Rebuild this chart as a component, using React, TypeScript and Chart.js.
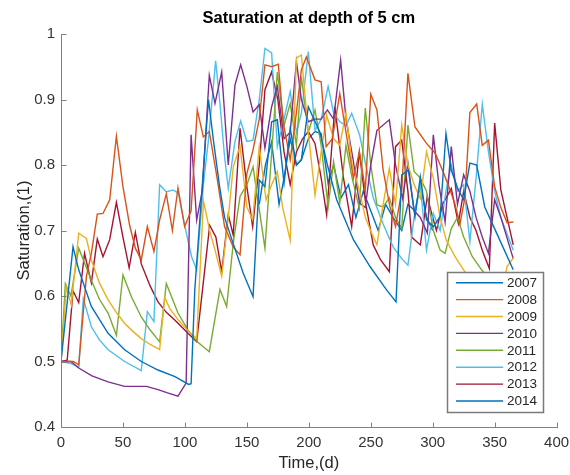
import React, { useEffect, useRef } from "react";
import { Chart, registerables } from "chart.js";

Chart.register(...registerables);

const FONT = "'Liberation Sans', Arial, Helvetica, sans-serif";

const titleText = "Saturation at depth of 5 cm";
const xLabel = "Time,(d)";
const yLabel = "Saturation,(1)";

const seriesNames = ["2007", "2008", "2009", "2010", "2011", "2012", "2013", "2014"];
const seriesColors = ["#0072BD", "#D95319", "#EDB120", "#7E2F8E", "#77AC30", "#4DBEEE", "#A2142F", "#0072BD"];

const days2007 = [0, 9.7, 14.3, 24.5, 38, 51.4, 64.8, 78.3, 92, 103, 105, 108, 119, 123, 128, 132, 139, 147, 155, 160, 164.6, 170, 174.6, 180, 185, 190, 194, 199.6, 209, 215, 222.5, 236, 249.4, 262.9, 270.4, 275, 280.4, 285.7, 290, 295, 300.5, 306, 310.7, 315, 320.7, 325, 330, 335.5, 342, 351.6, 365];
const sat2007 = [0.5, 0.675, 0.64, 0.584, 0.543, 0.518, 0.5, 0.487, 0.477, 0.465, 0.466, 0.61, 0.9, 0.838, 0.767, 0.72, 0.68, 0.635, 0.599, 0.777, 0.767, 0.866, 0.869, 0.772, 0.856, 0.8, 0.808, 0.889, 0.85, 0.8, 0.747, 0.686, 0.645, 0.609, 0.591, 0.785, 0.792, 0.721, 0.782, 0.716, 0.706, 0.721, 0.848, 0.792, 0.762, 0.747, 0.803, 0.8, 0.736, 0.696, 0.64];

const days2008 = [0, 10, 14.3, 20.5, 24.5, 29.3, 33.9, 39.3, 44.7, 50, 55.4, 60, 64.8, 69.7, 75, 79.6, 85, 89.9, 94.4, 99.8, 105, 110, 114.9, 119.7, 126, 132, 139, 144.5, 150, 155, 160, 164.6, 170, 175.4, 179.4, 185, 190, 194, 198, 205, 210, 214, 219, 225, 230, 236, 240.8, 245.6, 250, 255, 260, 265.5, 270, 275, 280, 285.7, 295, 302, 309, 314, 318, 322, 326, 330, 335.5, 340, 345, 350, 355, 360, 365];
const sat2008 = [0.5, 0.5, 0.495, 0.63, 0.665, 0.725, 0.726, 0.747, 0.844, 0.767, 0.708, 0.673, 0.655, 0.706, 0.668, 0.716, 0.756, 0.7, 0.765, 0.706, 0.73, 0.884, 0.843, 0.851, 0.78, 0.706, 0.675, 0.663, 0.787, 0.823, 0.87, 0.953, 0.95, 0.954, 0.864, 0.808, 0.88, 0.945, 0.965, 0.93, 0.927, 0.828, 0.84, 0.909, 0.85, 0.78, 0.82, 0.762, 0.908, 0.884, 0.792, 0.736, 0.706, 0.76, 0.94, 0.858, 0.833, 0.818, 0.787, 0.762, 0.74, 0.71, 0.75, 0.88, 0.893, 0.83, 0.838, 0.767, 0.735, 0.712, 0.713];

const days2009 = [0, 4.3, 8.3, 14.3, 20.5, 24.5, 31, 38, 45, 51.4, 58, 64.8, 72, 79.6, 83.7, 88, 94, 101, 109.5, 115, 120, 125, 129.7, 135, 139, 144.5, 150, 154.7, 160, 165.5, 170, 174.6, 179, 185, 190, 194, 199.6, 205, 210, 214.4, 220, 225, 230, 235, 241, 245.6, 250.7, 255, 260, 265, 270, 275, 280, 285, 290, 295, 300.5, 306, 311, 318, 326, 335, 345, 355, 360, 365];
const sat2009 = [0.5, 0.614, 0.586, 0.696, 0.688, 0.655, 0.62, 0.594, 0.574, 0.558, 0.546, 0.535, 0.526, 0.518, 0.598, 0.58, 0.565, 0.55, 0.535, 0.745, 0.7, 0.665, 0.63, 0.72, 0.797, 0.829, 0.736, 0.716, 0.828, 0.747, 0.77, 0.79, 0.734, 0.685, 0.963, 0.968, 0.85, 0.754, 0.82, 0.876, 0.84, 0.83, 0.88, 0.8, 0.76, 0.72, 0.696, 0.678, 0.74, 0.795, 0.74, 0.861, 0.8, 0.77, 0.749, 0.82, 0.78, 0.72, 0.685, 0.66, 0.637, 0.61, 0.595, 0.6, 0.645, 0.658];

const days2010 = [0, 8, 14.3, 25, 38, 51.4, 69, 78.3, 86, 94.4, 101, 105, 109.5, 114, 119.7, 124.3, 129.7, 135, 140.4, 145, 150, 155, 160, 164.6, 170, 174.6, 180, 185, 190, 194, 199.6, 205, 210, 215, 220, 225.7, 230, 235.8, 240.8, 245.6, 250, 255, 265, 270, 275.7, 280, 285, 290, 295.7, 300.5, 305, 310, 315, 320, 325, 330, 335, 340, 345, 350, 355, 365];
const sat2010 = [0.5, 0.5, 0.49, 0.478, 0.469, 0.462, 0.462, 0.457, 0.452, 0.447, 0.467, 0.846, 0.716, 0.76, 0.937, 0.894, 0.942, 0.8, 0.922, 0.953, 0.92, 0.881, 0.892, 0.826, 0.889, 0.92, 0.84, 0.85, 0.958, 0.9, 0.866, 0.87, 0.87, 0.884, 0.87, 0.96, 0.87, 0.808, 0.742, 0.735, 0.8, 0.853, 0.869, 0.8, 0.749, 0.803, 0.73, 0.72, 0.696, 0.846, 0.77, 0.713, 0.828, 0.74, 0.785, 0.76, 0.72, 0.69, 0.665, 0.747, 0.72, 0.657];

const days2011 = [0, 3.5, 8, 14.3, 24.5, 31, 38, 44.7, 50, 57, 64.8, 72, 79.6, 85, 94.4, 102.5, 110, 119.7, 128.3, 133.7, 139, 144.5, 150, 155, 164.6, 174.6, 180, 185, 190, 194, 199.6, 205, 210, 215.6, 220, 225, 230, 235, 240.8, 245.6, 250, 255, 260, 265, 270, 275, 280, 285, 290, 295, 300.5, 306, 310, 315, 320, 325, 332, 339.5, 350, 360, 365];
const sat2011 = [0.5, 0.619, 0.6, 0.673, 0.624, 0.595, 0.574, 0.54, 0.632, 0.598, 0.568, 0.548, 0.53, 0.619, 0.574, 0.548, 0.53, 0.515, 0.61, 0.584, 0.68, 0.752, 0.77, 0.797, 0.673, 0.942, 0.86, 0.894, 0.83, 0.935, 0.85, 0.884, 0.83, 0.736, 0.805, 0.742, 0.83, 0.78, 0.734, 0.887, 0.8, 0.739, 0.736, 0.75, 0.72, 0.703, 0.861, 0.79, 0.78, 0.76, 0.7, 0.67, 0.665, 0.703, 0.72, 0.69, 0.66, 0.64, 0.615, 0.6, 0.6];

const days2012 = [0, 8, 14.3, 18, 24.5, 31, 38, 51.4, 64.8, 69.7, 75, 79.6, 85, 90.4, 94.7, 100, 105.4, 109.5, 115, 119, 124.8, 128, 132, 135, 140.4, 145, 150, 155, 160, 164.6, 170, 174.6, 180, 185, 190, 194, 199.6, 205, 210, 215.6, 220, 225, 230, 234.6, 241, 246, 252, 260, 268, 275, 280, 285, 290, 295, 300.5, 306, 311, 315, 320, 325, 330, 335, 340, 345, 350, 355, 365];
const sat2012 = [0.5, 0.497, 0.491, 0.596, 0.553, 0.533, 0.518, 0.5, 0.486, 0.576, 0.561, 0.77, 0.759, 0.762, 0.757, 0.706, 0.66, 0.64, 0.772, 0.838, 0.959, 0.9, 0.813, 0.764, 0.836, 0.867, 0.836, 0.838, 0.9, 0.978, 0.971, 0.828, 0.87, 0.912, 0.85, 0.879, 0.973, 0.853, 0.87, 0.92, 0.88, 0.866, 0.86, 0.879, 0.846, 0.8, 0.75, 0.71, 0.675, 0.657, 0.647, 0.72, 0.769, 0.67, 0.726, 0.7, 0.764, 0.8, 0.76, 0.77, 0.683, 0.78, 0.893, 0.82, 0.76, 0.72, 0.67];

const days2013 = [0, 5, 9.7, 14.3, 19, 24.5, 29.3, 33.9, 39.3, 44.7, 50, 55, 60, 64.8, 72, 78.3, 85, 92, 102.5, 109.5, 116, 120, 125, 129.7, 135, 139, 144.5, 150, 154.7, 160, 164.6, 170, 175, 180, 185, 190, 195, 199.6, 205, 210, 214.4, 221, 228, 234.6, 240.8, 246, 252, 258, 265, 270, 275, 280, 283, 290, 295.6, 300, 303, 308, 315, 320.7, 325, 330, 335, 340, 345.7, 350, 355, 360, 365];
const sat2013 = [0.5, 0.502, 0.608, 0.59, 0.665, 0.62, 0.687, 0.66, 0.686, 0.743, 0.69, 0.643, 0.697, 0.649, 0.615, 0.591, 0.575, 0.563, 0.543, 0.53, 0.64, 0.708, 0.69, 0.637, 0.724, 0.693, 0.856, 0.767, 0.706, 0.8, 0.915, 0.942, 0.9, 0.82, 0.77, 0.82, 0.84, 0.851, 0.833, 0.78, 0.724, 0.889, 0.78, 0.706, 0.82, 0.74, 0.678, 0.655, 0.637, 0.828, 0.838, 0.76, 0.69, 0.678, 0.752, 0.72, 0.7, 0.74, 0.764, 0.711, 0.76, 0.72, 0.7, 0.67, 0.642, 0.864, 0.762, 0.72, 0.678];

const days2014 = [160, 165, 170, 176, 180, 185, 190, 194, 199.6, 205, 210, 215.6, 220, 226, 232, 238, 244, 250, 256, 262, 268, 275, 280, 285.7, 290, 295, 300];
const sat2014 = [0.74, 0.8, 0.835, 0.74, 0.78, 0.84, 0.8, 0.808, 0.84, 0.851, 0.848, 0.772, 0.8, 0.75, 0.77, 0.72, 0.76, 0.73, 0.7, 0.74, 0.72, 0.7, 0.74, 0.73, 0.77, 0.72, 0.7];

const seriesDays = [days2007, days2008, days2009, days2010, days2011, days2012, days2013, days2014];
const seriesSat = [sat2007, sat2008, sat2009, sat2010, sat2011, sat2012, sat2013, sat2014];

const xMin = 0, xMax = 400, xStep = 50;
const yMin = 0.4, yMax = 1, yStep = 0.1;

const matlabPlugin = {
  id: "matlabLook",
  afterDatasetsDraw(chart: any) {
    const ctx = chart.ctx;
    const area = chart.chartArea;
    const xs = chart.scales.x;
    const ys = chart.scales.y;
    ctx.save();
    ctx.strokeStyle = "#808080";
    ctx.lineWidth = 1;
    ctx.beginPath();
    const L = Math.round(area.left) + 0.5;
    const B = Math.round(area.bottom) + 0.5;
    ctx.moveTo(L, Math.round(area.top));
    ctx.lineTo(L, B);
    ctx.lineTo(Math.round(area.right) + 1, B);
    ctx.stroke();
    ctx.beginPath();
    xs.ticks.forEach((t: any) => {
      const px = Math.round(xs.getPixelForValue(t.value)) + 0.5;
      ctx.moveTo(px, B);
      ctx.lineTo(px, B - 5);
    });
    ys.ticks.forEach((t: any) => {
      const py = Math.round(ys.getPixelForValue(t.value)) + 0.5;
      ctx.moveTo(L, py);
      ctx.lineTo(L + 5, py);
    });
    ctx.stroke();

    // legend
    const lx = 447, ly = 272, lw = 96, lh = 140;
    ctx.fillStyle = "#ffffff";
    ctx.fillRect(lx, ly, lw, lh);
    ctx.strokeStyle = "#7a7a7a";
    ctx.lineWidth = 1.5;
    ctx.strokeRect(lx + 0.5, ly + 0.5, lw, lh);
    ctx.font = `13.5px ${FONT}`;
    ctx.textBaseline = "middle";
    ctx.textAlign = "left";
    seriesNames.forEach((name, i) => {
      const cy = 282.7 + i * 16.9;
      ctx.strokeStyle = seriesColors[i];
      ctx.lineWidth = 1.4;
      ctx.beginPath();
      ctx.moveTo(456, cy);
      ctx.lineTo(503, cy);
      ctx.stroke();
      ctx.fillStyle = "#262626";
      ctx.fillText(name, 507, cy + 0.5);
    });
    ctx.restore();
  },
  afterDraw(chart: any) {
    const ctx = chart.ctx;
    const area = chart.chartArea;
    const cx = (area.left + area.right) / 2;
    const cy = (area.top + area.bottom) / 2;
    ctx.save();
    ctx.fillStyle = "#000000";
    ctx.textAlign = "center";
    ctx.textBaseline = "middle";
    ctx.font = `bold 16.5px ${FONT}`;
    ctx.fillText(titleText, cx, 18);
    ctx.fillStyle = "#262626";
    ctx.font = `16.5px ${FONT}`;
    ctx.fillText(xLabel, cx, 463);
    ctx.translate(24, cy);
    ctx.rotate(-Math.PI / 2);
    ctx.fillText(yLabel, 0, 0);
    ctx.restore();
  },
};

export default function App() {
  const ref = useRef<HTMLCanvasElement | null>(null);
  useEffect(() => {
    if (!ref.current) return;
    const datasets = seriesNames.map((name, i) => ({
      label: name,
      data: seriesDays[i].map((d, j) => ({ x: d, y: seriesSat[i][j] })),
      borderColor: seriesColors[i],
      backgroundColor: seriesColors[i],
      borderWidth: 1.4,
      pointRadius: 0,
      tension: 0,
      fill: false,
    }));
    const chart = new Chart(ref.current, {
      type: "line",
      data: { datasets },
      plugins: [matlabPlugin],
      options: {
        animation: false,
        responsive: false,
        devicePixelRatio: 1,
        layout: { padding: { top: 34, right: 13.4, left: 0, bottom: 0 } },
        plugins: {
          legend: { display: false },
          title: { display: false },
          tooltip: { enabled: false },
        },
        scales: {
          x: {
            type: "linear",
            min: xMin,
            max: xMax,
            grid: { display: false, drawTicks: false },
            border: { display: false },
            ticks: {
              stepSize: xStep,
              padding: 7,
              autoSkip: false,
              maxRotation: 0,
              color: "#333333",
              font: { family: FONT, size: 15 },
            },
            afterFit: (s: any) => {
              s.height = 48;
              s.paddingLeft = 0;
              s.paddingRight = 0;
            },
          },
          y: {
            type: "linear",
            min: yMin,
            max: yMax,
            grid: { display: false, drawTicks: false },
            border: { display: false },
            ticks: {
              stepSize: yStep,
              padding: 6,
              autoSkip: false,
              color: "#333333",
              font: { family: FONT, size: 15 },
              callback: (v: any) => String(Number(Number(v).toFixed(1))),
            },
            afterFit: (s: any) => {
              s.width = 61;
              s.paddingTop = 0;
              s.paddingBottom = 0;
            },
          },
        },
      } as any,
    });
    return () => chart.destroy();
  }, []);
  return (
    <div style={{ position: "fixed", left: 0, top: 0, width: 570, height: 475, background: "#fff" }}>
      <canvas ref={ref} width={570} height={475} style={{ display: "block" }} />
    </div>
  );
}
